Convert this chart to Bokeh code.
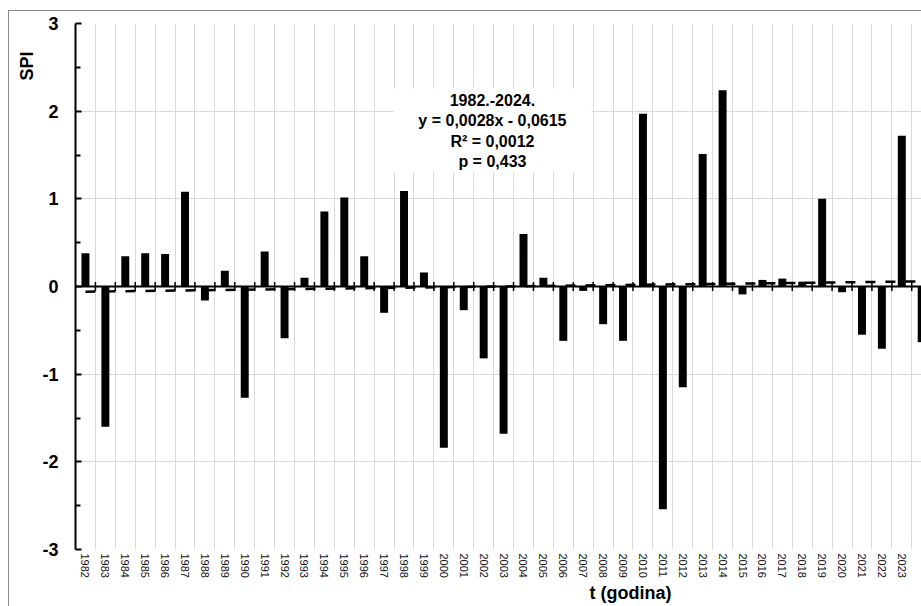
import math
from bokeh.plotting import figure
from bokeh.models import FixedTicker, Label, BoxAnnotation, Span, Range1d, Title
from bokeh.embed import file_html
from bokeh.resources import INLINE

# ---- data ----
years = list(range(1982, 2025))
spi = [0.38, -1.60, 0.345, 0.38, 0.37, 1.08, -0.16, 0.18, -1.27, 0.40,
       -0.59, 0.10, 0.855, 1.015, 0.345, -0.30, 1.09, 0.16, -1.84, -0.27,
       -0.82, -1.68, 0.60, 0.10, -0.62, -0.05, -0.43, -0.62, 1.97, -2.54,
       -1.15, 1.51, 2.24, -0.09, 0.075, 0.09, 0.055, 1.00, -0.065, -0.55,
       -0.71, 1.72, -0.635]
trend_ends = [-0.059, 0.059]          # linear trend, first and last year
y_ticks = [-3, -2, -1, 0, 1, 2, 3]
y_minor = [-2.5, -1.5, -0.5, 0.5, 1.5, 2.5]
box_lines = ["1982.-2024.", "y = 0,0028x - 0,0615", "R\u00b2 = 0,0012", "p = 0,433"]

FONT = "Liberation Sans"
idx = list(range(len(years)))
bounds = [i + 0.5 for i in idx[:-1]]

p = figure(width=912, height=595, output_backend="svg", toolbar_location=None,
           x_range=Range1d(-0.5, 41.99), y_range=Range1d(-3, 3),
           min_border_left=66, min_border_right=0, min_border_top=12,
           min_border_bottom=57)
p.outline_line_color = None
p.background_fill_color = "white"
p.border_fill_color = "white"
p.styles = {"margin-left": "9px", "margin-top": "11px",
            "outline": "1px solid #8a8a8a"}

# grids
p.xgrid.ticker = FixedTicker(ticks=bounds)
p.xgrid.grid_line_color = "#d9d9d9"
p.ygrid.ticker = FixedTicker(ticks=[-2, -1, 0, 1, 2])
p.ygrid.grid_line_color = "#d9d9d9"

# y axis
ya = p.yaxis[0]
ya.ticker = FixedTicker(ticks=y_ticks, minor_ticks=y_minor)
ya.major_label_overrides = {t: str(t) for t in y_ticks}
ya.major_tick_in = 6
ya.major_tick_out = 0
ya.minor_tick_in = 5
ya.minor_tick_out = 0
ya.axis_line_width = 2
ya.major_tick_line_width = 2
ya.minor_tick_line_width = 2
ya.axis_line_color = "black"
ya.major_label_standoff = 17
ya.major_label_text_font = FONT
ya.major_label_text_font_style = "bold"
ya.major_label_text_font_size = "18px"
ya.major_label_text_color = "black"

# x axis (labels only)
xa = p.xaxis[0]
xa.ticker = FixedTicker(ticks=idx)
xa.major_label_overrides = {i: str(y) for i, y in zip(idx, years)}
xa.major_label_orientation = -math.pi / 2
xa.axis_line_color = None
xa.major_tick_line_color = None
xa.minor_tick_line_color = None
xa.major_label_standoff = -2
xa.major_label_text_font = FONT
xa.major_label_text_font_size = "11px"
xa.major_label_text_color = "#111111"

# bars
p.vbar(x=idx, top=spi, bottom=0, width=0.4, fill_color="black", line_color=None)

# trend line
p.line(x=[idx[0], idx[-1]], y=trend_ends, line_color="black", line_width=2.5,
       line_dash="10 10")

# zero axis line with crossing ticks
p.add_layout(Span(location=0, dimension="width", line_color="black", line_width=2))
p.scatter(x=bounds, y=[0] * len(bounds), marker="dash", angle=math.pi / 2, size=9,
          line_color="black", line_width=1.5)

# white box + stats text
p.add_layout(BoxAnnotation(left=15.47, right=25.42, top=2.258, bottom=1.30,
                           fill_color="white", fill_alpha=1.0, line_color=None))
for txt, yy in zip(box_lines, [2.122, 1.899, 1.654, 1.426]):
    p.add_layout(Label(x=20.44, y=yy, text=txt, text_align="center",
                       text_baseline="middle", text_font=FONT,
                       text_font_style="bold", text_font_size="16px",
                       text_color="black"))

# axis titles
p.add_layout(Title(text="SPI", align="left", offset=469, standoff=6,
                   text_font=FONT, text_font_style="bold", text_font_size="18px",
                   text_color="black"), "left")
p.add_layout(Title(text="t (godina)", align="left", offset=514, standoff=0,
                   text_font=FONT, text_font_style="bold", text_font_size="18px",
                   text_color="black"), "below")

open("out.html", "w").write(file_html(p, INLINE))
